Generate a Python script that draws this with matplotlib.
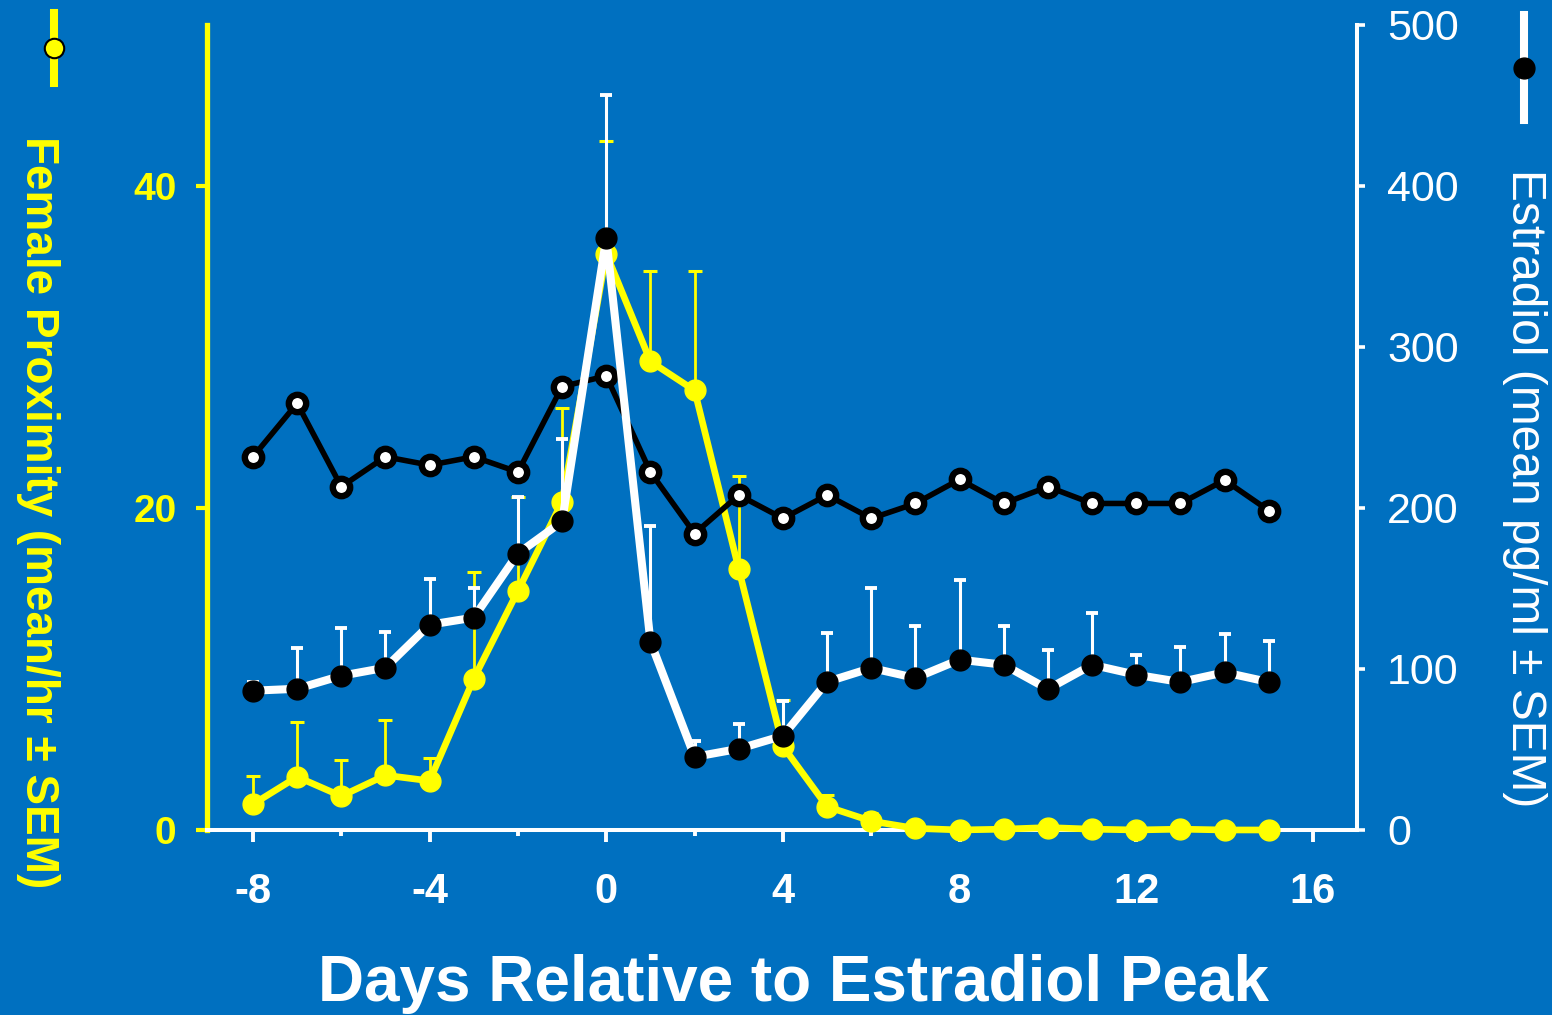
import numpy as np
import matplotlib
matplotlib.use("Agg")
import matplotlib.pyplot as plt
from matplotlib.lines import Line2D

# Days relative to the estradiol peak
days = np.arange(-8, 16)

# Female proximity (mean/hr) and upper SEM, left axis
proximity = [1.6, 3.3, 2.1, 3.4, 3.05, 9.4, 14.85, 20.4, 35.8, 29.1, 27.3, 16.2,
             5.2, 1.45, 0.55, 0.1, 0.0, 0.05, 0.15, 0.05, 0.0, 0.05, 0.0, 0.0]
proximity_sem = [1.75, 3.4, 2.25, 3.4, 1.45, 6.6, 5.85, 5.8, 7.0, 5.6, 7.4, 5.8,
                 2.9, 0.75, 0.5, 0, 0, 0, 0, 0, 0, 0, 0, 0]

# Estradiol (mean pg/ml) and upper SEM, right axis
estradiol = [86.5, 87.7, 95.8, 100.8, 127.5, 131.9, 171.7, 191.6, 367.6, 117.0,
             45.4, 50.4, 58.5, 92.0, 100.6, 94.4, 105.8, 102.6, 87.5, 102.6,
             96.4, 91.9, 97.9, 91.9]
estradiol_sem = [5.5, 25.3, 29.9, 22.4, 28.5, 18.1, 35.3, 51.0, 89.0, 71.5,
                 10.0, 15.6, 21.7, 30.6, 49.9, 32.1, 49.7, 23.9, 24.0, 31.9,
                 12.0, 21.5, 23.8, 25.7]

# Open-circle series, right axis
open_vals = [231.8, 265.0, 213.2, 231.8, 226.6, 231.8, 222.3, 275.4, 282.0, 222.3,
             184.1, 208.0, 193.5, 208.0, 193.5, 202.8, 217.7, 202.8, 213.2, 202.8,
             202.8, 202.8, 217.3, 198.4]

BG = "#0070C0"
YELLOW = "#FFFF00"
WHITE = "#FFFFFF"
FONT = ["Liberation Sans", "DejaVu Sans"]

plt.rcParams["font.family"] = FONT
plt.rcParams["axes.unicode_minus"] = False

fig = plt.figure(figsize=(15.52, 10.15), dpi=100, facecolor=BG)
ax = fig.add_axes([0.1334, 0.1823, 0.741, 0.7931])
ax.set_facecolor(BG)
ax2 = ax.twinx()

# proximity (yellow, drawn underneath)
ax.errorbar(days, proximity, yerr=[np.zeros(len(days)), proximity_sem], fmt="none",
            ecolor=YELLOW, elinewidth=2.0, capsize=5.0, capthick=2.2, zorder=2)
ax.plot(days, proximity, color=YELLOW, lw=4.8, marker="o", ms=15,
        mfc=YELLOW, mec=YELLOW, zorder=3, clip_on=False)

# open-circle series
ax2.plot(days, open_vals, color="black", lw=4.0, marker="o", ms=12.5,
         mfc=WHITE, mec="black", mew=4.6, zorder=2)

# estradiol (white line, black dots)
ax2.errorbar(days, estradiol, yerr=[np.zeros(len(days)), estradiol_sem], fmt="none",
             ecolor=WHITE, elinewidth=2.2, capsize=4.5, capthick=2.8, zorder=3)
ax2.plot(days, estradiol, color=WHITE, lw=5.8, zorder=4)
ax2.plot(days, estradiol, ls="none", marker="o", ms=15, mfc="black",
         mec="black", zorder=5)

ax.set_xlim(-9.04, 17.0)
ax.set_ylim(0, 50)
ax2.set_ylim(0, 500)

ax.set_xticks(np.arange(-8, 17, 4))
ax.set_xticks(np.arange(-8, 17, 2), minor=True)
ax.set_yticks([0, 20, 40])
ax2.set_yticks(np.arange(0, 501, 100))

for s in ["top", "right"]:
    ax.spines[s].set_visible(False)
ax.spines["left"].set_color(YELLOW)
ax.spines["left"].set_linewidth(3.8)
ax.spines["bottom"].set_color(WHITE)
ax.spines["bottom"].set_linewidth(2.9)
for s in ["top", "left", "bottom"]:
    ax2.spines[s].set_visible(False)
ax2.spines["right"].set_color(WHITE)
ax2.spines["right"].set_linewidth(2.9)

ax.tick_params(axis="x", which="major", direction="out", length=8.5, width=2.8,
               color=WHITE, pad=22, labelsize=30, labelcolor=WHITE)
ax.tick_params(axis="x", which="minor", direction="out", length=4.3, width=2.8,
               color=WHITE)
ax.tick_params(axis="y", direction="out", length=8, width=3, color=YELLOW,
               pad=14, labelsize=28, labelcolor=YELLOW)
ax2.tick_params(axis="y", direction="out", length=5.5, width=2.6, color=WHITE,
                pad=16, labelsize=31, labelcolor=WHITE)
for lab in ax.get_xticklabels() + ax.get_yticklabels():
    lab.set_fontweight("bold")

fig.text(793 / 1552, 1 - 984 / 1015, "Days Relative to Estradiol Peak",
         color=WHITE, fontsize=46, fontweight="bold", ha="center", va="center")
fig.text(38 / 1552, 1 - 512 / 1015, "Female Proximity (mean/hr ± SEM)",
         color=YELLOW, fontsize=33, fontweight="bold", rotation=-90,
         ha="center", va="center")
fig.text(1525 / 1552, 1 - 488 / 1015, "Estradiol (mean pg/ml ± SEM)",
         color=WHITE, fontsize=34.5, rotation=-90, ha="center", va="center")

# series keys in the top corners
W, H = 1552, 1015
fig.add_artist(Line2D([54 / W, 54 / W], [1 - 13 / H, 1 - 83 / H],
                      transform=fig.transFigure, color=YELLOW, lw=5.8))
fig.add_artist(Line2D([54 / W], [1 - 48 / H], transform=fig.transFigure,
                      ls="none", marker="o", ms=14, mfc=YELLOW, mec="black", mew=1.5))
fig.add_artist(Line2D([1524 / W, 1524 / W], [1 - 15 / H, 1 - 120 / H],
                      transform=fig.transFigure, color=WHITE, lw=5.8))
fig.add_artist(Line2D([1524 / W], [1 - 68 / H], transform=fig.transFigure,
                      ls="none", marker="o", ms=15, mfc="black", mec="black"))

fig.savefig("out.png", dpi=100, facecolor=BG)
